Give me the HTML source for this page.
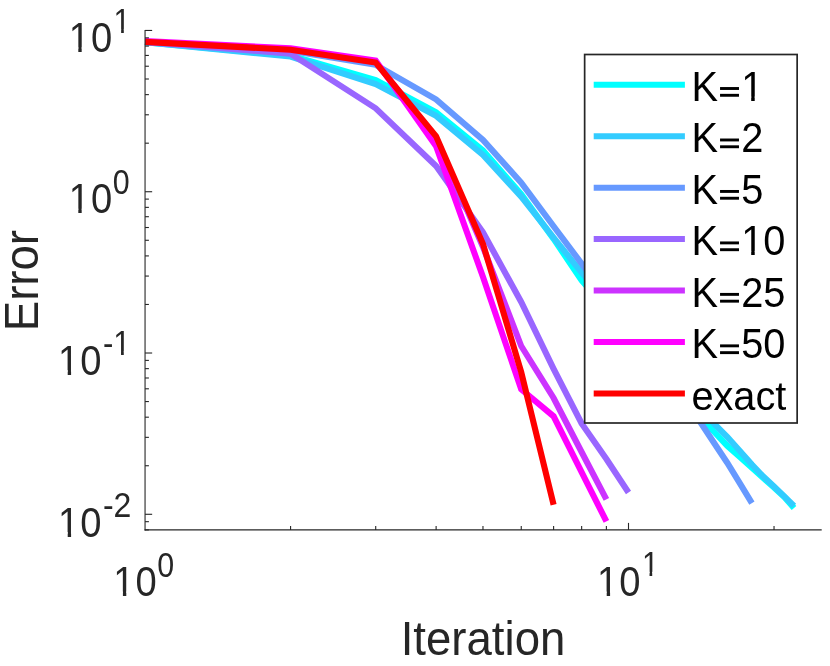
<!DOCTYPE html>
<html><head><meta charset="utf-8"><title>Error vs Iteration</title>
<style>
html,body{margin:0;padding:0;background:#fff;}
body{width:830px;height:666px;overflow:hidden;}
svg{display:block;will-change:transform;}
text{font-family:"Liberation Sans",sans-serif;fill:#262626;}
</style></head>
<body>
<svg width="830" height="666" viewBox="0 0 830 666">
<rect width="830" height="666" fill="#ffffff"/>
<g>
<polyline points="145.1,42.2 290.6,55.6 375.7,80.0 436.1,112.4 483.0,150.5 521.2,194.2 553.6,238.9 581.6,280.3 713.6,431.3 727.2,445.7 739.9,457.0 751.9,467.6 763.3,478.0 774.0,487.4 784.3,497.0 794.0,508.0" fill="none" stroke="#00FFFF" stroke-width="6.1" stroke-linejoin="miter" stroke-linecap="butt"/>
<polyline points="145.1,42.2 290.6,56.5 375.7,84.0 436.1,115.9 483.0,155.0 521.2,196.6 553.6,237.6 581.6,272.6 713.6,423.2 727.2,436.8 739.9,451.0 751.9,464.6 763.3,476.6 774.0,486.6 784.3,496.4 794.0,505.9" fill="none" stroke="#33CCFF" stroke-width="6.1" stroke-linejoin="miter" stroke-linecap="butt"/>
<polyline points="145.1,42.0 290.6,50.8 375.7,64.8 436.1,99.4 483.0,140.0 521.2,182.6 553.6,226.2 581.6,263.6 699.1,420.3 713.6,442.3 727.2,462.7 739.9,483.3 751.9,503.1" fill="none" stroke="#6699FF" stroke-width="6.1" stroke-linejoin="miter" stroke-linecap="butt"/>
<polyline points="145.1,42.0 290.6,53.7 375.7,108.3 436.1,166.0 483.0,232.3 521.2,302.0 553.6,368.8 581.6,423.5 606.4,459.0 628.5,492.5" fill="none" stroke="#9966FF" stroke-width="6.1" stroke-linejoin="miter" stroke-linecap="butt"/>
<polyline points="145.1,41.8 290.6,49.7 375.7,62.2 436.1,138.0 483.0,247.0 521.2,346.0 553.6,398.0 581.6,452.0 606.4,499.3" fill="none" stroke="#CC33FF" stroke-width="6.1" stroke-linejoin="miter" stroke-linecap="butt"/>
<polyline points="145.1,41.0 290.6,48.3 375.7,60.6 436.1,146.3 483.0,277.0 521.2,389.3 553.6,416.3 581.6,472.2 606.4,521.4" fill="none" stroke="#FF00FF" stroke-width="6.1" stroke-linejoin="miter" stroke-linecap="butt"/>
<polyline points="145.1,41.9 290.6,49.8 375.7,62.5 436.1,136.3 483.0,244.0 521.2,372.0 553.6,504.7" fill="none" stroke="#FF0000" stroke-width="6.1" stroke-linejoin="miter" stroke-linecap="butt"/>
</g>
<g stroke="#262626" stroke-width="1.1" fill="none">
<line x1="145.05" y1="29.9" x2="145.05" y2="530.4499999999999"/>
<line x1="144.5" y1="529.9" x2="821.7" y2="529.9"/>
<line x1="145.05" y1="30.45" x2="152.15" y2="30.45"/>
<line x1="145.05" y1="143.18" x2="148.9" y2="143.18"/>
<line x1="145.05" y1="114.78" x2="148.9" y2="114.78"/>
<line x1="145.05" y1="94.63" x2="148.9" y2="94.63"/>
<line x1="145.05" y1="79.00" x2="148.9" y2="79.00"/>
<line x1="145.05" y1="66.23" x2="148.9" y2="66.23"/>
<line x1="145.05" y1="55.43" x2="148.9" y2="55.43"/>
<line x1="145.05" y1="46.08" x2="148.9" y2="46.08"/>
<line x1="145.05" y1="37.83" x2="148.9" y2="37.83"/>
<line x1="145.05" y1="191.73" x2="152.15" y2="191.73"/>
<line x1="145.05" y1="304.46" x2="148.9" y2="304.46"/>
<line x1="145.05" y1="276.06" x2="148.9" y2="276.06"/>
<line x1="145.05" y1="255.91" x2="148.9" y2="255.91"/>
<line x1="145.05" y1="240.28" x2="148.9" y2="240.28"/>
<line x1="145.05" y1="227.51" x2="148.9" y2="227.51"/>
<line x1="145.05" y1="216.71" x2="148.9" y2="216.71"/>
<line x1="145.05" y1="207.36" x2="148.9" y2="207.36"/>
<line x1="145.05" y1="199.11" x2="148.9" y2="199.11"/>
<line x1="145.05" y1="353.01" x2="152.15" y2="353.01"/>
<line x1="145.05" y1="465.74" x2="148.9" y2="465.74"/>
<line x1="145.05" y1="437.34" x2="148.9" y2="437.34"/>
<line x1="145.05" y1="417.19" x2="148.9" y2="417.19"/>
<line x1="145.05" y1="401.56" x2="148.9" y2="401.56"/>
<line x1="145.05" y1="388.79" x2="148.9" y2="388.79"/>
<line x1="145.05" y1="377.99" x2="148.9" y2="377.99"/>
<line x1="145.05" y1="368.64" x2="148.9" y2="368.64"/>
<line x1="145.05" y1="360.39" x2="148.9" y2="360.39"/>
<line x1="145.05" y1="514.29" x2="152.15" y2="514.29"/>
<line x1="145.05" y1="529.92" x2="148.9" y2="529.92"/>
<line x1="145.05" y1="521.67" x2="148.9" y2="521.67"/>
<line x1="290.58" y1="529.9" x2="290.58" y2="526.05"/>
<line x1="375.71" y1="529.9" x2="375.71" y2="526.05"/>
<line x1="436.12" y1="529.9" x2="436.12" y2="526.05"/>
<line x1="482.97" y1="529.9" x2="482.97" y2="526.05"/>
<line x1="521.25" y1="529.9" x2="521.25" y2="526.05"/>
<line x1="553.61" y1="529.9" x2="553.61" y2="526.05"/>
<line x1="581.65" y1="529.9" x2="581.65" y2="526.05"/>
<line x1="606.38" y1="529.9" x2="606.38" y2="526.05"/>
<line x1="628.50" y1="529.9" x2="628.50" y2="522.9"/>
<line x1="774.03" y1="529.9" x2="774.03" y2="526.05"/>
</g>
<g>
<text transform="translate(68.70,51.85) scale(0.955,1.08)" font-size="40.0" letter-spacing="1.0">10</text>
<text transform="translate(113.48,33.05) scale(0.95,1.075)" font-size="32.0">1</text>
<text transform="translate(68.70,213.33) scale(0.955,1.08)" font-size="40.0" letter-spacing="1.0">10</text>
<text transform="translate(112.68,193.73) scale(0.95,1.075)" font-size="32.0">0</text>
<text transform="translate(58.10,374.81) scale(0.955,1.08)" font-size="40.0" letter-spacing="1.0">10</text>
<text transform="translate(102.88,355.21) scale(0.97,1.075)" font-size="32.0">-1</text>
<text transform="translate(58.10,536.69) scale(0.955,1.08)" font-size="40.0" letter-spacing="1.0">10</text>
<text transform="translate(102.88,517.39) scale(1.0,1.075)" font-size="32.0">-2</text>
<text transform="translate(113.30,596.20) scale(0.955,1.08)" font-size="40.0" letter-spacing="1.0">10</text>
<text transform="translate(157.28,576.60) scale(0.95,1.075)" font-size="32.0">0</text>
<text transform="translate(597.10,596.20) scale(0.955,1.08)" font-size="40.0" letter-spacing="1.0">10</text>
<text transform="translate(641.88,575.80) scale(0.95,1.075)" font-size="32.0">1</text>
<text transform="translate(483.00,654.90) scale(1,1.035)" font-size="45.6" text-anchor="middle">Iteration</text>
<text transform="translate(38.2,280.6) rotate(-90) scale(1,1.035)" font-size="45.6" text-anchor="middle">Error</text>
</g>
<g>
<rect x="584.65" y="54.5" width="212.5" height="368.5" fill="#fff" stroke="#262626" stroke-width="1.7"/>
<line x1="593.7" y1="84.70" x2="684.9" y2="84.70" stroke="#00FFFF" stroke-width="6"/>
<text transform="translate(691.40,101.00) scale(1,1.053)" font-size="39.8" style="fill:#000">K=1</text>
<line x1="593.7" y1="136.17" x2="684.9" y2="136.17" stroke="#33CCFF" stroke-width="6"/>
<text transform="translate(691.40,152.47) scale(1,1.053)" font-size="39.8" style="fill:#000">K=2</text>
<line x1="593.7" y1="187.64" x2="684.9" y2="187.64" stroke="#6699FF" stroke-width="6"/>
<text transform="translate(691.40,203.94) scale(1,1.053)" font-size="39.8" style="fill:#000">K=5</text>
<line x1="593.7" y1="239.11" x2="684.9" y2="239.11" stroke="#9966FF" stroke-width="6"/>
<text transform="translate(691.40,255.41) scale(1,1.053)" font-size="39.8" style="fill:#000">K=10</text>
<line x1="593.7" y1="290.58" x2="684.9" y2="290.58" stroke="#CC33FF" stroke-width="6"/>
<text transform="translate(691.40,306.88) scale(1,1.053)" font-size="39.8" style="fill:#000">K=25</text>
<line x1="593.7" y1="342.05" x2="684.9" y2="342.05" stroke="#FF00FF" stroke-width="6"/>
<text transform="translate(691.40,358.35) scale(1,1.053)" font-size="39.8" style="fill:#000">K=50</text>
<line x1="593.7" y1="393.52" x2="684.9" y2="393.52" stroke="#FF0000" stroke-width="6"/>
<text transform="translate(691.40,409.82) scale(1,1.02)" font-size="39.7" style="fill:#000">exact</text>
</g>
<g fill="#ffffff">
<rect x="70.61" y="47.22" width="7.70" height="5.53"/>
<rect x="81.68" y="47.22" width="7.40" height="5.53"/>
<rect x="114.80" y="29.08" width="6.33" height="4.87"/>
<rect x="123.81" y="29.08" width="6.09" height="4.87"/>
<rect x="70.61" y="208.70" width="7.70" height="5.53"/>
<rect x="81.68" y="208.70" width="7.40" height="5.53"/>
<rect x="60.01" y="370.18" width="7.70" height="5.53"/>
<rect x="71.08" y="370.18" width="7.40" height="5.53"/>
<rect x="114.58" y="351.24" width="6.44" height="4.87"/>
<rect x="123.77" y="351.24" width="6.20" height="4.87"/>
<rect x="60.01" y="532.06" width="7.70" height="5.53"/>
<rect x="71.08" y="532.06" width="7.40" height="5.53"/>
<rect x="115.21" y="591.57" width="7.70" height="5.53"/>
<rect x="126.28" y="591.57" width="7.40" height="5.53"/>
<rect x="599.01" y="591.57" width="7.70" height="5.53"/>
<rect x="610.08" y="591.57" width="7.40" height="5.53"/>
<rect x="643.20" y="571.83" width="6.33" height="4.87"/>
<rect x="652.21" y="571.83" width="6.09" height="4.87"/>
<rect x="743.22" y="96.47" width="7.98" height="5.43"/>
<rect x="754.71" y="96.47" width="7.67" height="5.43"/>
<rect x="719.0" y="79.25" width="21.4" height="15.91"/>
<rect x="719.0" y="130.72" width="21.4" height="15.91"/>
<rect x="719.0" y="182.19" width="21.4" height="15.91"/>
<rect x="743.22" y="250.88" width="7.98" height="5.43"/>
<rect x="754.71" y="250.88" width="7.67" height="5.43"/>
<rect x="719.0" y="233.66" width="21.4" height="15.91"/>
<rect x="719.0" y="285.13" width="21.4" height="15.91"/>
<rect x="719.0" y="336.60" width="21.4" height="15.91"/>
</g>
<g fill="#000000">
<rect x="720.05" y="87.05" width="18.93" height="2.9"/>
<rect x="720.05" y="93.85" width="18.93" height="2.9"/>
<rect x="720.05" y="138.52" width="18.93" height="2.9"/>
<rect x="720.05" y="145.32" width="18.93" height="2.9"/>
<rect x="720.05" y="189.99" width="18.93" height="2.9"/>
<rect x="720.05" y="196.79" width="18.93" height="2.9"/>
<rect x="720.05" y="241.46" width="18.93" height="2.9"/>
<rect x="720.05" y="248.26" width="18.93" height="2.9"/>
<rect x="720.05" y="292.93" width="18.93" height="2.9"/>
<rect x="720.05" y="299.73" width="18.93" height="2.9"/>
<rect x="720.05" y="344.40" width="18.93" height="2.9"/>
<rect x="720.05" y="351.20" width="18.93" height="2.9"/>
</g>
</svg>
</body></html>
